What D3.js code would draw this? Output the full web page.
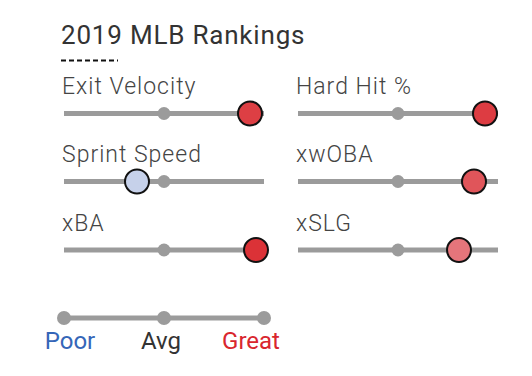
<!DOCTYPE html>
<html><head><meta charset="utf-8">
<script src="https://cdn.jsdelivr.net/npm/d3@7"></script>
<style>
html,body{margin:0;padding:0;background:#fff;}
svg{display:block;font-family:Roboto, "Open Sans", sans-serif;}
</style></head>
<body>
<svg id="chart" width="532" height="376"></svg>
<script>
const title = "2019 MLB Rankings";
const metrics = ["Exit Velocity","Hard Hit %","Sprint Speed","xwOBA","xBA","xSLG"];
const percentiles = [93, 93.5, 36.5, 88, 96, 80.5];
const legendLabels = ["Poor","Avg","Great"];
const legendValues = [0, 50, 100];

const svg = d3.select("#chart");
const color = d3.scaleLinear().domain([0,50,100]).range(["#3d5fb0","#f8fbff","#d92026"]);
const colX = [64, 298];
const rowY = [113.5, 181.5, 250];
const x = d3.scaleLinear().domain([0,100]).range([0,200]);

svg.append("text").attr("x",61).attr("y",44).attr("font-size",26).attr("font-weight",400)
  .attr("letter-spacing",0.8).attr("fill","#333").text(title);
svg.append("line").attr("x1",61).attr("x2",118).attr("y1",60.5).attr("y2",60.5)
  .attr("stroke","#111").attr("stroke-width",2).attr("stroke-dasharray","5,3");

metrics.forEach((m,i)=>{
  const cx = colX[i%2], cy = rowY[Math.floor(i/2)];
  const g = svg.append("g").attr("transform",`translate(${cx},${cy})`);
  g.append("text").attr("x",-2).attr("y",-19.5).attr("font-size",23).attr("font-weight",300)
    .attr("letter-spacing",1).attr("fill","#444").text(m);
  g.append("line").attr("x1",x(0)).attr("x2",x(100)).attr("stroke","#9b9b9b").attr("stroke-width",5);
  g.append("circle").attr("cx",x(50)).attr("r",6.5).attr("fill","#9b9b9b");
  g.append("circle").attr("cx",x(percentiles[i])).attr("r",12).attr("fill",color(percentiles[i]))
    .attr("stroke","#111").attr("stroke-width",2);
});

const lg = svg.append("g").attr("transform","translate(64,318)");
lg.append("line").attr("x1",x(0)).attr("x2",x(100)).attr("stroke","#9b9b9b").attr("stroke-width",5);
lg.selectAll("circle").data(legendValues).join("circle").attr("cx",d=>x(d)).attr("r",7).attr("fill","#9b9b9b");
const lgOff = [6, -3, -13];
const lgCol = ["#3566b8","#333","#d9262e"];
lg.selectAll("text").data(legendLabels).join("text")
  .attr("x",(d,i)=>x(legendValues[i])+lgOff[i]).attr("y",31).attr("text-anchor","middle")
  .attr("font-size",24).attr("fill",(d,i)=>lgCol[i]).text(d=>d);
</script>
</body></html>
